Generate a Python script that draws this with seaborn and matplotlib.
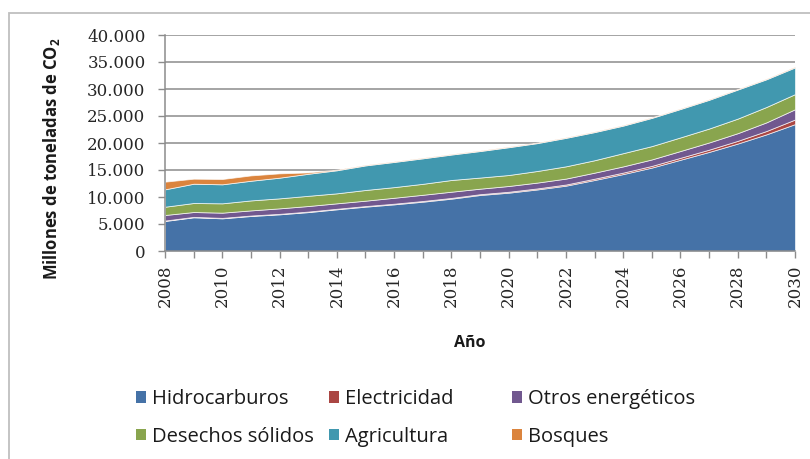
import matplotlib
matplotlib.use("Agg")
import matplotlib.pyplot as plt
import seaborn as sns
from matplotlib.patches import Patch, Rectangle
from matplotlib.ticker import FuncFormatter, MultipleLocator

years = list(range(2008, 2031))
hidrocarburos = [5560, 6240, 6050, 6480, 6790, 7200, 7720, 8210, 8640, 9130, 9690, 10370,
                 10800, 11400, 12100, 13150, 14250, 15450, 16900, 18350, 19900, 21600, 23500]
electricidad = [80, 80, 80, 90, 90, 100, 100, 110, 120, 130, 140, 150,
                170, 190, 210, 240, 270, 310, 360, 420, 500, 620, 850]
otros = [1030, 900, 970, 950, 1020, 1030, 1010, 1000, 1100, 1150, 1150, 1020,
         1070, 1080, 1100, 1120, 1150, 1200, 1260, 1330, 1420, 1600, 1900]
desechos = [1530, 1670, 1730, 1850, 1850, 1890, 1850, 1980, 1970, 2030, 2170, 2060,
            2030, 2150, 2270, 2300, 2450, 2470, 2520, 2580, 2700, 2850, 2800]
agricultura = [3220, 3570, 3520, 3640, 3830, 4080, 4270, 4550, 4660, 4720, 4710, 4910,
               5150, 5160, 5270, 5210, 5100, 5220, 5260, 5320, 5380, 5130, 4950]
bosques = [1420, 930, 980, 990, 800, 250, 120, 100, 100, 100, 100, 100,
           100, 100, 100, 100, 100, 100, 100, 100, 100, 100, 130]

series_names = ["Hidrocarburos", "Electricidad", "Otros energéticos",
                "Desechos sólidos", "Agricultura", "Bosques"]
colors = ["#4572A7", "#AA4643", "#71588F", "#89A54E", "#4198AF", "#DB843D"]
x_tick_labels = list(range(2008, 2031, 2))

sns.set_theme(style="white")
plt.rcParams['font.family'] = ['Open Sans', 'DejaVu Sans']
palette = sns.color_palette(colors)

fig = plt.figure(figsize=(8.1, 4.59), dpi=100)
ax = fig.add_axes([165 / 810, 1 - 251 / 459, 630 / 810, 216 / 459])

ax.stackplot(years, hidrocarburos, electricidad, otros, desechos, agricultura, bosques,
             colors=palette, edgecolor=(1, 1, 1, 0.75), linewidth=0.6, zorder=2)

ax.set_xlim(2008, 2030)
ax.set_ylim(0, 40000)
ax.yaxis.set_major_locator(MultipleLocator(5000))
ax.yaxis.set_major_formatter(FuncFormatter(lambda v, p: f"{v:,.0f}".replace(",", ".")))
ax.grid(axis='y', color='#8C8C8C', lw=1.1, zorder=0)
ax.set_axisbelow(True)
for s in ['top', 'right']:
    ax.spines[s].set_visible(False)
for s in ['left', 'bottom']:
    ax.spines[s].set_color('#8C8C8C')
    ax.spines[s].set_linewidth(1.1)

ax.set_xticks(x_tick_labels)
ax.set_xticks(years, minor=True)
ax.set_xticklabels([str(y) for y in x_tick_labels], rotation=90,
                   family='DejaVu Serif', fontsize=12)
for lab in ax.get_yticklabels():
    lab.set_family('DejaVu Serif')
    lab.set_fontsize(12)
ax.tick_params(axis='x', which='both', direction='out', length=5, width=1,
               color='#8C8C8C', pad=5, bottom=True)
ax.tick_params(axis='y', direction='out', length=5, width=1, color='#8C8C8C',
               pad=9, left=True, labelsize=12)

ax.set_ylabel(r"Millones de toneladas de CO$_\mathregular{2}$", fontsize=12,
              fontweight='bold', color='#1a1a1a')
ax.yaxis.set_label_coords(-0.163, 0.426)
ax.set_xlabel("Año", fontsize=11.5, fontweight='bold', color='#1a1a1a')
ax.xaxis.set_label_coords(0.484, -0.39)

# outer chart border
fig.patches.append(Rectangle((9 / 810, -0.1), 1.0, 1 - 13 / 459 + 0.1,
                             transform=fig.transFigure, fill=False,
                             ec='#BFBFBF', lw=1.3))

handles = [Patch(facecolor=c, edgecolor='none', label=n) for c, n in zip(palette, series_names)]
col_x = [136 / 810, 329 / 810, 512 / 810]
col_items = [(0, 3), (1, 4), (2, 5)]
for cx, idx in zip(col_x, col_items):
    leg = fig.legend(handles=[handles[i] for i in idx], loc='center left',
                     bbox_to_anchor=(cx, 1 - 418 / 459), frameon=False,
                     fontsize=14.5, handlelength=0.52, handleheight=0.52,
                     handletextpad=0.28, labelspacing=0.85, borderpad=0,
                     borderaxespad=0)
    for t in leg.get_texts():
        t.set_color('#1a1a1a')

fig.savefig("out.png", dpi=100, facecolor='white')
